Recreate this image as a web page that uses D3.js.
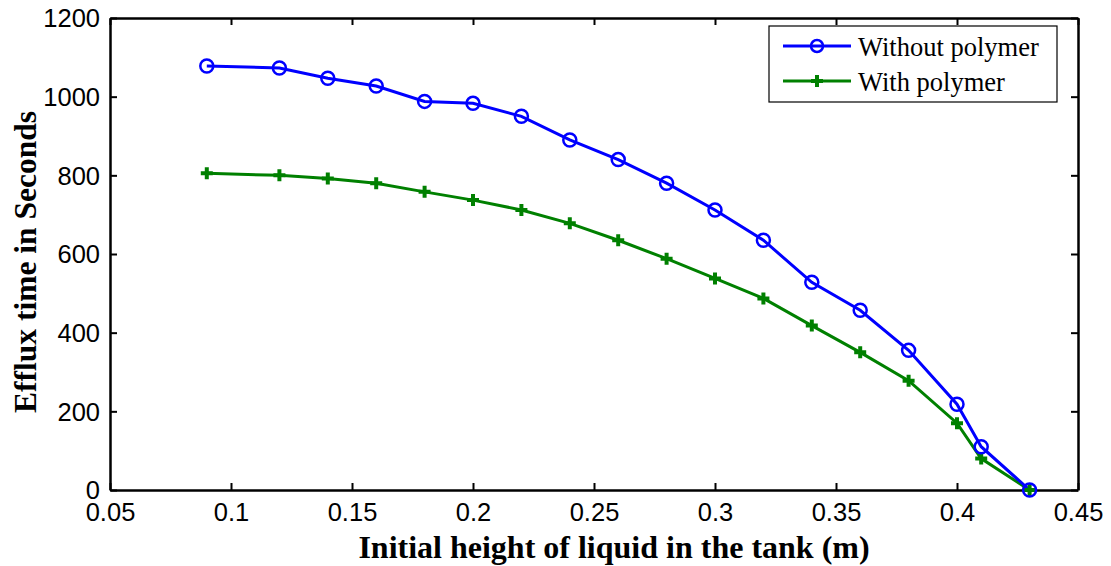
<!DOCTYPE html>
<html><head><meta charset="utf-8">
<script src="https://d3js.org/d3.v7.min.js"></script>
<style>body{margin:0;background:#fff}svg{display:block}</style>
</head><body>
<script>
const heights = [0.09,0.12,0.14,0.16,0.18,0.20,0.22,0.24,0.26,0.28,0.30,0.32,0.34,0.36,0.38,0.40,0.41,0.43];
const withoutPolymer = [1078,1073,1047,1027,988,983,950,890,840,780,712,635,528,457,355,218,110,0];
const withPolymer = [805,800,792,780,758,737,712,678,635,588,538,487,418,350,278,170,80,0];
const xTicks = [0.05,0.1,0.15,0.2,0.25,0.3,0.35,0.4,0.45];
const yTicks = [0,200,400,600,800,1000,1200];
const seriesNames = ["Without polymer","With polymer"];

const W=1111,H=566, L=110,R=1078,T=18,B=490;
const svg=d3.select("body").append("svg").attr("width",W).attr("height",H);
const x=d3.scaleLinear().domain([0.05,0.45]).range([L,R]);
const y=d3.scaleLinear().domain([0,1200]).range([B,T]);

const fmt = d=>String(d);
const tickFont = "Liberation Sans, Arial, sans-serif";
const gx=svg.append("g").attr("transform",`translate(0,${B})`)
  .call(d3.axisBottom(x).tickValues(xTicks).tickFormat(fmt).tickSizeInner(-7).tickSizeOuter(0).tickPadding(13));
const gxt=svg.append("g").attr("transform",`translate(0,${T})`)
  .call(d3.axisTop(x).tickValues(xTicks).tickFormat("").tickSizeInner(-7).tickSizeOuter(0));
const gy=svg.append("g").attr("transform",`translate(${L},0)`)
  .call(d3.axisLeft(y).tickValues(yTicks).tickFormat(fmt).tickSizeInner(-7).tickSizeOuter(0).tickPadding(10));
const gyr=svg.append("g").attr("transform",`translate(${R},0)`)
  .call(d3.axisRight(y).tickValues(yTicks).tickFormat("").tickSizeInner(-7).tickSizeOuter(0));
[gx,gxt,gy,gyr].forEach(g=>{
  g.selectAll(".domain").attr("stroke","#000").attr("stroke-width",2.5);
  g.selectAll(".tick line").attr("stroke","#000").attr("stroke-width",2);
  g.selectAll(".tick text").attr("fill","#000").style("font-family",tickFont).style("font-size","25.5px");
});
gx.selectAll(".tick text").attr("dy","0.71em");
gy.selectAll(".tick text").attr("dy","0.34em");

const line=d3.line().x((d,i)=>x(heights[i])).y(d=>y(d));
svg.append("path").datum(withPolymer).attr("d",line).attr("fill","none").attr("stroke","#008000").attr("stroke-width",3);
svg.append("path").datum(withoutPolymer).attr("d",line).attr("fill","none").attr("stroke","#0000ff").attr("stroke-width",3);

function plus(g,cx,cy,s){
  g.append("path").attr("d",`M${cx-s},${cy}H${cx+s}M${cx},${cy-s}V${cy+s}`)
   .attr("stroke","#008000").attr("stroke-width",4).attr("fill","none");
}
const gp=svg.append("g");
withPolymer.forEach((d,i)=>plus(gp,x(heights[i]),y(d),6));
svg.append("g").selectAll("circle").data(withoutPolymer).join("circle")
  .attr("cx",(d,i)=>x(heights[i])).attr("cy",d=>y(d)).attr("r",6.5)
  .attr("fill","none").attr("stroke","#0000ff").attr("stroke-width",2.5);

const titleFont="Liberation Serif, Times New Roman, serif";
svg.append("text").attr("x",614).attr("y",558).attr("text-anchor","middle")
  .style("font-family",titleFont).style("font-weight","bold").style("font-size","32px")
  .text("Initial height of liquid in the tank (m)");
svg.append("text").attr("transform",`translate(36,${262}) rotate(-90)`).attr("text-anchor","middle")
  .style("font-family",titleFont).style("font-weight","bold").style("font-size","31.5px")
  .text("Efflux time in Seconds");

const lg=svg.append("g");
lg.append("rect").attr("x",769).attr("y",26).attr("width",288).attr("height",76).attr("fill","#fff").attr("stroke","#000").attr("stroke-width",1.2);
const ly=[46,81];
lg.append("line").attr("x1",783).attr("x2",851).attr("y1",ly[0]).attr("y2",ly[0]).attr("stroke","#0000ff").attr("stroke-width",3);
lg.append("circle").attr("cx",817).attr("cy",ly[0]).attr("r",6).attr("fill","none").attr("stroke","#0000ff").attr("stroke-width",2.5);
lg.append("line").attr("x1",783).attr("x2",851).attr("y1",ly[1]).attr("y2",ly[1]).attr("stroke","#008000").attr("stroke-width",3);
plus(lg,817,ly[1],6);
seriesNames.forEach((n,i)=>lg.append("text").attr("x",858).attr("y",ly[i]+10)
  .style("font-family",titleFont).style("font-size","26.5px").attr("fill","#000").text(n));
</script>
</body></html>
